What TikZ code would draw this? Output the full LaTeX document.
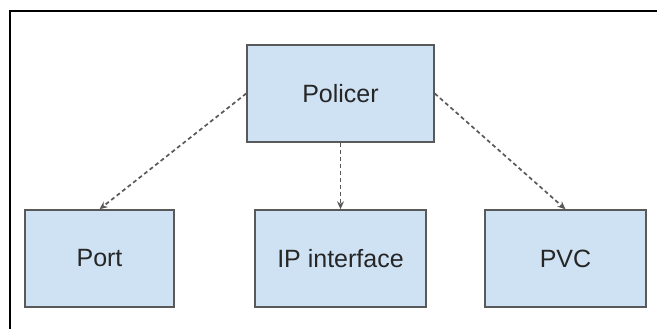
\documentclass[tikz,border=0pt]{standalone}
\usepackage{fontspec}
\setmainfont{Liberation Sans}
\usetikzlibrary{arrows.meta}
\definecolor{boxblue}{HTML}{CFE2F3}
\definecolor{boxline}{HTML}{595959}

\begin{document}
\begin{tikzpicture}[x=1pt,y=1pt,
  unit/.style={draw=boxline,line width=1.5pt,fill=boxblue,text=black!85,font=\fontsize{25}{30}\selectfont,inner sep=0pt},
  link/.style={draw=black!65,line width=1.7pt,dash pattern=on 4pt off 3pt,-{Stealth[length=8pt,width=7pt]}}]
\useasboundingbox (0,0) rectangle (657,329);
\draw[line width=2pt] (10,0) -- (10,318) -- (657,318);
\node[unit,minimum width=187pt,minimum height=97pt] (policer) at (340.5,235.5) {Policer};
\node[unit,minimum width=149pt,minimum height=97pt] (port) at (99.5,70.5) {Port};
\node[unit,minimum width=171pt,minimum height=97pt] (ipif) at (340.5,70.5) {IP interface};
\node[unit,minimum width=161pt,minimum height=97pt] (pvc) at (565.5,70.5) {PVC};
\draw[link] (policer.west) -- (port.north);
\draw[link] (policer.south) -- (ipif.north);
\draw[link] (policer.east) -- (pvc.north);
\end{tikzpicture}
\end{document}
